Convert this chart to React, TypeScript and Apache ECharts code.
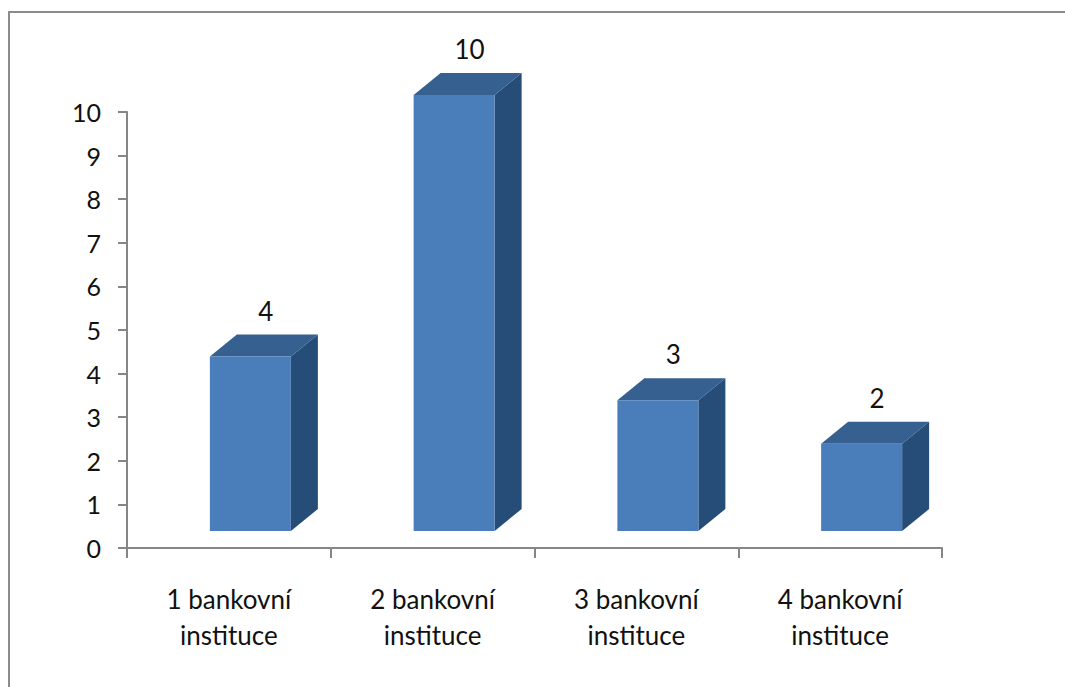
import React, { useEffect, useRef } from "react";
import * as echarts from "echarts";

const categories = [
  "1 bankovní\ninstituce",
  "2 bankovní\ninstituce",
  "3 bankovní\ninstituce",
  "4 bankovní\ninstituce",
];
const values = [4, 10, 3, 2];
const yTicks = [0, 1, 2, 3, 4, 5, 6, 7, 8, 9, 10];

const FONT = "Lato, 'Open Sans', sans-serif";

export default function App() {
  const ref = useRef<HTMLDivElement>(null);
  useEffect(() => {
    if (!ref.current) return;
    const chart = echarts.init(ref.current, null, { renderer: "svg" });
    const frontW = 81;
    const frontOff = -19; // left edge relative to category center
    const lift = 17; // front face raised above axis
    const dx = 27;
    const dy = -22;
    chart.setOption({
      animation: false,
      backgroundColor: "#ffffff",
      graphic: [
        {
          type: "rect",
          shape: { x: 9, y: 12, width: 1100, height: 700 },
          style: { fill: "none", stroke: "#8c8c8c", lineWidth: 2 },
          z: -1,
        },
      ],
      grid: { left: 127, right: 123, top: 112, bottom: 139 },
      xAxis: {
        type: "category",
        data: categories,
        boundaryGap: true,
        axisLine: { lineStyle: { color: "#868686", width: 2 } },
        axisTick: {
          show: true,
          alignWithLabel: false,
          length: 10,
          lineStyle: { color: "#868686", width: 2 },
        },
        axisLabel: {
          fontFamily: FONT,
          fontSize: 26,
          color: "#111",
          lineHeight: 36,
          margin: 33,
          interval: 0,
        },
      },
      yAxis: {
        type: "value",
        min: 0,
        max: 10,
        interval: 1,
        splitLine: { show: false },
        axisLine: { show: true, lineStyle: { color: "#868686", width: 2 } },
        axisTick: { show: true, length: 9, lineStyle: { color: "#868686", width: 2 } },
        axisLabel: {
          fontFamily: FONT,
          fontSize: 25,
          color: "#111",
          margin: 26,
          formatter: (v: number) => (yTicks.includes(v) ? String(v) : ""),
        },
      },
      series: [
        {
          type: "custom",
          clip: false,
          data: values.map((v, i) => [i, v]),
          renderItem: (params: any, api: any) => {
            const idx = api.value(0);
            const val = api.value(1);
            const top = api.coord([idx, val]);
            const base = api.coord([idx, 0]);
            const cx = top[0];
            const x0 = cx + frontOff;
            const x1 = x0 + frontW;
            const yt = top[1] - lift;
            const yb = base[1] - lift;
            return {
              type: "group",
              children: [
                {
                  type: "polygon",
                  shape: {
                    points: [
                      [x1, yt],
                      [x1 + dx, yt + dy],
                      [x1 + dx, yb + dy],
                      [x1, yb],
                    ],
                  },
                  style: { fill: "#264c78" },
                },
                {
                  type: "polygon",
                  shape: {
                    points: [
                      [x0, yt],
                      [x0 + dx, yt + dy],
                      [x1 + dx, yt + dy],
                      [x1, yt],
                    ],
                  },
                  style: { fill: "#35608f" },
                },
                {
                  type: "rect",
                  shape: { x: x0, y: yt, width: frontW, height: yb - yt },
                  style: { fill: "#4a7ebb" },
                },
                {
                  type: "text",
                  style: {
                    text: String(val),
                    x: cx + 37,
                    y: top[1] - 63,
                    align: "center",
                    verticalAlign: "middle",
                    fontFamily: FONT,
                    fontSize: 26,
                    fill: "#111",
                  },
                },
              ],
            };
          },
        },
      ],
    });
    return () => chart.dispose();
  }, []);
  return (
    <div
      ref={ref}
      style={{ position: "fixed", left: 0, top: 0, width: 1065, height: 687 }}
    />
  );
}
